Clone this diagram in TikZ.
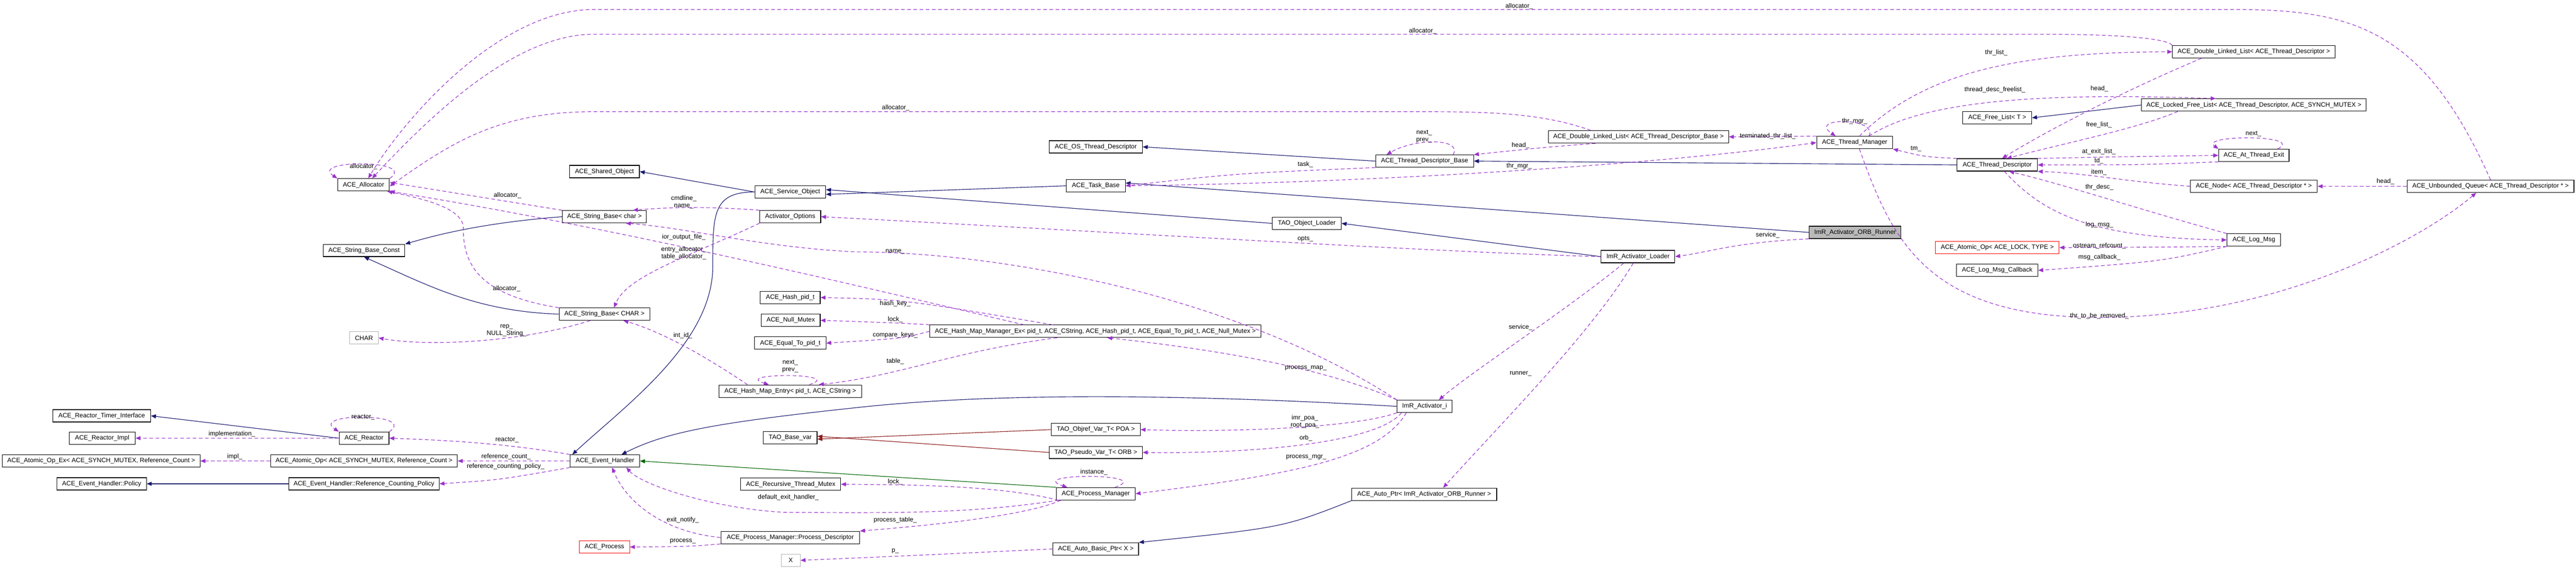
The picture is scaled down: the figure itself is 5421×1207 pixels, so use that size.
\documentclass[tikz,border=0pt]{standalone}
\usepackage{fontspec}
\setmainfont{Liberation Sans}
\usetikzlibrary{arrows.meta}
\definecolor{navy}{HTML}{191970}
\definecolor{orch}{HTML}{9A32CD}
\definecolor{dgreen}{HTML}{006400}
\definecolor{dred}{HTML}{8B1A1A}
\begin{document}
\begin{tikzpicture}[x=0.01cm,y=-0.01cm,
 box/.style={draw,line width=0.35pt,minimum height=0.26cm,inner sep=0pt,font=\fontsize{3.8}{4.3}\selectfont},
 lab/.style={inner sep=0pt,font=\fontsize{3.8}{4.3}\selectfont,align=center},
 inh/.style={draw=navy,line width=0.35pt,-{Triangle[length=3pt,width=2.4pt]}},
 inhg/.style={inh,draw=dgreen},
 inhr/.style={inh,draw=dred},
 use/.style={draw=orch,line width=0.35pt,dash pattern=on 2.2pt off 1.5pt,-{Triangle[length=3pt,width=2.4pt,fill=orch]}}]
\useasboundingbox (0,0) rectangle (5421,1207);
\fill[white] (0,0) rectangle (5421,1207);
% nodes
\node[box,minimum width=1.09cm] (alloc) at (765,389) {ACE\_Allocator};
\node[box,minimum width=1.72cm] (sbc) at (766,527) {ACE\_String\_Base\_Const};
\node[box,minimum width=0.60cm,draw=gray!60] (char) at (766,711) {CHAR};
\node[box,minimum width=2.06cm] (rti) at (214,875) {ACE\_Reactor\_Timer\_Interface};
\node[box,minimum width=1.39cm] (rimpl) at (215,922) {ACE\_Reactor\_Impl};
\node[box,minimum width=4.16cm] (aoex) at (213,970) {ACE\_Atomic\_Op\_Ex< ACE\_SYNCH\_MUTEX, Reference\_Count >};
\node[box,minimum width=1.88cm] (pol) at (214,1018) {ACE\_Event\_Handler::Policy};
\node[box,minimum width=1.05cm] (reac) at (766,922) {ACE\_Reactor};
\node[box,minimum width=3.93cm] (ao) at (766,970) {ACE\_Atomic\_Op< ACE\_SYNCH\_MUTEX, Reference\_Count >};
\node[box,minimum width=3.16cm] (rcp) at (766,1018) {ACE\_Event\_Handler::Reference\_Counting\_Policy};
\node[box,minimum width=1.47cm] (so1) at (1272,361) {ACE\_Shared\_Object};
\node[box,minimum width=1.49cm] (svc) at (1663,404) {ACE\_Service\_Object};
\node[box,minimum width=1.77cm] (sbchar) at (1272,456) {ACE\_String\_Base< char >};
\node[box,minimum width=1.28cm] (aopt) at (1663,456) {Activator\_Options};
\node[box,minimum width=1.91cm] (sbCHAR) at (1272,661) {ACE\_String\_Base< CHAR >};
\node[box,minimum width=1.26cm] (hpid) at (1663,626) {ACE\_Hash\_pid\_t};
\node[box,minimum width=1.24cm] (nmtx) at (1664,674) {ACE\_Null\_Mutex};
\node[box,minimum width=1.50cm] (eqp) at (1663,722) {ACE\_Equal\_To\_pid\_t};
\node[box,minimum width=3.00cm] (hme) at (1663,823) {ACE\_Hash\_Map\_Entry< pid\_t, ACE\_CString >};
\node[box,minimum width=1.13cm] (tbv) at (1663,921) {TAO\_Base\_var};
\node[box,minimum width=1.46cm] (eh) at (1273,970) {ACE\_Event\_Handler};
\node[box,minimum width=2.10cm] (rtm) at (1664,1019) {ACE\_Recursive\_Thread\_Mutex};
\node[box,minimum width=2.92cm] (pd) at (1663,1131) {ACE\_Process\_Manager::Process\_Descriptor};
\node[box,minimum width=1.06cm,draw=red] (proc) at (1272,1151) {ACE\_Process};
\node[box,minimum width=0.40cm,draw=gray!60] (xx) at (1664,1179) {X};
\node[box,minimum width=1.96cm] (ostd) at (2306,309) {ACE\_OS\_Thread\_Descriptor};
\node[box,minimum width=1.24cm] (task) at (2306,391) {ACE\_Task\_Base};
\node[box,minimum width=6.96cm] (hmm) at (2305,697) {ACE\_Hash\_Map\_Manager\_Ex< pid\_t, ACE\_CString, ACE\_Hash\_pid\_t, ACE\_Equal\_To\_pid\_t, ACE\_Null\_Mutex >};
\node[box,minimum width=1.87cm] (objref) at (2306,904) {TAO\_Objref\_Var\_T< POA >};
\node[box,minimum width=1.96cm] (pseudo) at (2306,952) {TAO\_Pseudo\_Var\_T< ORB >};
\node[box,minimum width=1.66cm] (pm) at (2306,1039) {ACE\_Process\_Manager};
\node[box,minimum width=1.80cm] (abp) at (2306,1155) {ACE\_Auto\_Basic\_Ptr< X >};
\node[box,minimum width=2.06cm] (tdb) at (2998,339) {ACE\_Thread\_Descriptor\_Base};
\node[box,minimum width=3.79cm] (dlltdb) at (3448,288) {ACE\_Double\_Linked\_List< ACE\_Thread\_Descriptor\_Base >};
\node[box,minimum width=1.45cm] (tol) at (2750,470) {TAO\_Object\_Loader};
\node[box,minimum width=1.55cm] (ial) at (3447,540) {ImR\_Activator\_Loader};
\node[box,minimum width=1.16cm] (iai) at (2998,855) {ImR\_Activator\_i};
\node[box,minimum width=3.05cm] (aptr) at (2997,1040) {ACE\_Auto\_Ptr< ImR\_Activator\_ORB\_Runner >};
\node[box,minimum width=1.60cm] (tm) at (3903,300) {ACE\_Thread\_Manager};
\node[box,minimum width=1.45cm] (fl) at (4203,248) {ACE\_Free\_List< T >};
\node[box,minimum width=1.69cm] (td) at (4203,347) {ACE\_Thread\_Descriptor};
\node[box,minimum width=1.93cm,fill=gray!55] (runner) at (3904,489) {ImR\_Activator\_ORB\_Runner};
\node[box,minimum width=2.60cm,draw=red] (aolt) at (4203,521) {ACE\_Atomic\_Op< ACE\_LOCK, TYPE >};
\node[box,minimum width=1.71cm] (lmc) at (4203,569) {ACE\_Log\_Msg\_Callback};
\node[box,minimum width=3.42cm] (dlltd) at (4743,109) {ACE\_Double\_Linked\_List< ACE\_Thread\_Descriptor >};
\node[box,minimum width=4.72cm] (lfl) at (4743,221) {ACE\_Locked\_Free\_List< ACE\_Thread\_Descriptor, ACE\_SYNCH\_MUTEX >};
\node[box,minimum width=1.48cm] (ate) at (4743,327) {ACE\_At\_Thread\_Exit};
\node[box,minimum width=2.67cm] (node) at (4743,392) {ACE\_Node< ACE\_Thread\_Descriptor * >};
\node[box,minimum width=3.51cm] (uq) at (5241,392) {ACE\_Unbounded\_Queue< ACE\_Thread\_Descriptor * >};
\node[box,minimum width=1.13cm] (lm) at (4743,505) {ACE\_Log\_Msg};
% inheritance
\draw[inh] (sbchar.west) .. controls (1000,470) and (900,500) .. (sbc.north east);
\draw[inh] (sbCHAR.west) .. controls (1000,655) and (900,600) .. (sbc.south);
\draw[inh] (svc.west) -- (so1.east);
\draw[inh] (svc.west) .. controls (1500,404) and (1500,450) .. (1500,560) .. controls (1500,720) and (1320,850) .. ([xshift=0.05cm]eh.north west);
\draw[inh] (task.west) -- ([yshift=-0.05cm]svc.east);
\draw[inh] (tol.west) -- ([yshift=0.05cm]svc.east);
\draw[inh] (runner.west) -- ([yshift=0.06cm]task.east);
\draw[inh] (ial.west) -- (tol.east);
\draw[inh] (td.west) -- (tdb.east);
\draw[inh] (tdb.west) -- (ostd.east);
\draw[inh] (lfl.west) -- (fl.east);
\draw[inh] (reac.west) -- (rti.east);
\draw[inh] (rcp.west) -- (pol.east);
\draw[inh] (iai.west) .. controls (2500,830) and (2100,825) .. (1800,858) .. controls (1500,890) and (1400,910) .. ([xshift=0.35cm]eh.north);
\draw[inhg] (pm.north west) -- (eh.east);
\draw[inhr] (objref.west) -- ([yshift=-0.03cm]tbv.east);
\draw[inhr] (pseudo.west) -- ([yshift=0.03cm]tbv.east);
\draw[inh] (aptr.south west) .. controls (2700,1110) .. (abp.north east);
% usage: allocator
\draw[use] (alloc.north east) .. controls +(60,-40) and +(-60,-40) .. (alloc.north west);
\node[lab] (l1) at (765,350) {allocator\_};
\draw[use] (uq.north) .. controls (5100,60) and (4950,20) .. (4700,20) -- (1250,20) .. controls (1050,20) and (850,250) .. ([xshift=0.1cm]alloc.north);
\node[lab] (l2) at (3197,13) {allocator\_};
\draw[use] (dlltd.north west) .. controls (4560,80) and (4450,72) .. (4300,72) -- (1250,72) .. controls (1080,72) and (900,250) .. ([xshift=0.18cm]alloc.north);
\node[lab] (l3) at (2994,65) {allocator\_};
\draw[use] ([xshift=-1cm]dlltdb.north) .. controls (3250,240) and (3150,235) .. (3000,235) -- (1250,235) .. controls (1050,235) and (950,300) .. ([yshift=-0.03cm]alloc.east);
\node[lab] (l4) at (1885,227) {allocator\_};
\draw[use] (sbchar.north west) -- ([yshift=0.05cm]alloc.east);
\node[lab] (l5) at (1068,411) {allocator\_};
\draw[use] (sbCHAR.north west) .. controls (1000,620) and (975,550) .. (975,480) .. controls (975,440) and (900,420) .. ([xshift=-0.05cm]alloc.south east);
\node[lab] (l6) at (1066,607) {allocator\_};
\draw[use] ([xshift=-1.5cm]hmm.north) .. controls (1800,600) and (1300,480) .. (alloc.south east);
\node[lab] (l7) at (1439,533) {entry\_allocator\_\\table\_allocator\_};
% other usage
\draw[use] (reac.north east) .. controls +(60,-40) and +(-60,-40) .. (reac.north west);
\node[lab] (l8) at (764,878) {reactor\_};
\draw[use] (reac.west) -- (rimpl.east);
\node[lab] (l9) at (488,913) {implementation\_};
\draw[use] (ao.west) -- (aoex.east);
\node[lab] (l10) at (494,961) {impl\_};
\draw[use] (eh.north west) .. controls (1050,930) and (900,925) .. (reac.east);
\node[lab] (l11) at (1067,926) {reactor\_};
\draw[use] (eh.west) -- (ao.east);
\node[lab] (l12) at (1065,961) {reference\_count\_};
\draw[use] (eh.south west) .. controls (1050,1010) .. (rcp.east);
\node[lab] (l13) at (1064,981) {reference\_counting\_policy\_};
\draw[use] ([xshift=-0.3cm]sbCHAR.south) .. controls (1100,720) and (900,730) .. (char.east);
\node[lab] (l14) at (1066,695) {rep\_\\NULL\_String\_};
\draw[use] (aopt.north west) .. controls (1500,435) and (1420,435) .. ([xshift=0.6cm]sbchar.north);
\node[lab] (l15) at (1439,425) {cmdline\_\\name\_};
\draw[use] (aopt.south west) .. controls (1450,540) and (1320,580) .. ([xshift=0.2cm]sbCHAR.north);
\node[lab] (l16) at (1439,499) {ior\_output\_file\_};
\draw[use] (iai.north west) .. controls (2600,620) and (2100,530) .. (1800,530) .. controls (1600,520) and (1450,480) .. ([xshift=0.45cm]sbchar.south);
\node[lab] (l17) at (1884,529) {name\_};
\draw[use] ([xshift=-0.9cm]hme.north) .. controls (1500,760) and (1400,700) .. ([xshift=0.4cm]sbCHAR.south);
\node[lab] (l18) at (1437,706) {int\_id\_};
\draw[use] ([xshift=0.4cm]hme.north) .. controls +(80,-25) and +(-80,-25) .. ([xshift=-0.45cm]hme.north);
\node[lab] (l19) at (1663,771) {next\_\\prev\_};
\draw[use] ([xshift=-0.9cm]hmm.north) .. controls (1900,630) .. (hpid.east);
\node[lab] (l20) at (1884,639) {hash\_key\_};
\draw[use] (hmm.north west) .. controls (1900,680) .. (nmtx.east);
\node[lab] (l21) at (1884,672) {lock\_};
\draw[use] (hmm.west) .. controls (1900,712) .. (eqp.east);
\node[lab] (l22) at (1884,705) {compare\_keys\_};
\draw[use] ([xshift=-0.8cm]hmm.south) .. controls (2000,740) and (1900,790) .. ([xshift=0.6cm]hme.north);
\node[lab] (l23) at (1884,760) {table\_};
\draw[use] (iai.north west) .. controls (2800,780) and (2600,740) .. ([xshift=0.25cm]hmm.south);
\node[lab] (l24) at (2748,775) {process\_map\_};
\draw[use] (iai.south west) .. controls (2850,900) and (2600,910) .. (objref.east);
\node[lab] (l25) at (2746,887) {imr\_poa\_\\root\_poa\_};
\draw[use] ([xshift=0.1cm]iai.south west) .. controls (2900,930) and (2650,955) .. (pseudo.east);
\node[lab] (l26) at (2748,922) {orb\_};
\draw[use] ([xshift=0.2cm]iai.south west) .. controls (2900,970) and (2700,1000) .. (pm.east);
\node[lab] (l27) at (2749,962) {process\_mgr\_};
\draw[use] ([xshift=0.4cm]pm.north) .. controls +(90,-30) and +(-90,-30) .. ([xshift=-0.6cm]pm.north);
\node[lab] (l28) at (2302,993) {instance\_};
\draw[use] ([xshift=0.05cm]pm.south west) .. controls (2100,1020) and (1900,1020) .. (rtm.east);
\node[lab] (l29) at (1884,1014) {lock\_};
\draw[use] ([xshift=0.05cm]pm.south west) .. controls (2050,1080) and (1900,1080) .. (1650,1078) .. controls (1500,1070) and (1350,1020) .. ([xshift=0.45cm]eh.south);
\node[lab] (l30) at (1659,1046) {default\_exit\_handler\_};
\draw[use] ([xshift=0.1cm]pm.south west) .. controls (2150,1090) and (1900,1110) .. (pd.north east);
\node[lab] (l31) at (1884,1094) {process\_table\_};
\draw[use] (pd.west) .. controls (1400,1120) and (1320,1060) .. ([xshift=0.15cm]eh.south);
\node[lab] (l32) at (1437,1094) {exit\_notify\_};
\draw[use] (pd.south west) .. controls (1450,1150) .. (proc.east);
\node[lab] (l33) at (1437,1139) {process\_};
\draw[use] (abp.west) .. controls (1900,1170) .. (xx.east);
\node[lab] (l34) at (1884,1159) {p\_};
% thread stuff
\draw[use] ([xshift=0.6cm]tdb.north) .. controls +(20,-35) and +(60,-35) .. ([xshift=-0.8cm]tdb.north);
\node[lab] (l35) at (2997,287) {next\_\\prev\_};
\draw[use] (tdb.south west) .. controls (2600,365) .. (task.east);
\node[lab] (l36) at (2747,346) {task\_};
\draw[use] (task.east) .. controls (2900,385) and (3500,345) .. (tm.west);
\node[lab] (l37) at (3197,350) {thr\_mgr\_};
\draw[use] ([xshift=-0.9cm]dlltdb.south) .. controls (3250,310) .. (tdb.north east);
\node[lab] (l38) at (3200,306) {head\_};
\draw[use] (tm.north west) -- (dlltdb.east);
\node[lab] (l39) at (3720,286) {terminated\_thr\_list\_};
\draw[use] ([xshift=0.3cm]tm.north) .. controls +(20,-40) and +(-60,-40) .. ([xshift=-0.4cm]tm.north);
\node[lab] (l40) at (3903,255) {thr\_mgr\_};
\draw[use] ([xshift=0.1cm]tm.north) .. controls (4050,150) and (4250,110) .. (dlltd.west);
\node[lab] (l41) at (4201,111) {thr\_list\_};
\draw[use] ([xshift=0.3cm]tm.north) .. controls (4050,210) and (4300,195) .. ([xshift=-0.8cm]lfl.north);
\node[lab] (l42) at (4198,189) {thread\_desc\_freelist\_};
\draw[use] ([xshift=0.1cm]tm.south) .. controls (3980,500) and (4050,668) .. (4418,668) .. controls (4800,668) and (5100,500) .. ([xshift=-0.3cm]uq.south);
\node[lab] (l43) at (4418,665) {thr\_to\_be\_removed\_};
\draw[use] (td.north west) .. controls (4050,330) .. (tm.south east);
\node[lab] (l44) at (4032,313) {tm\_};
\draw[use] ([xshift=-1.1cm]dlltd.south) .. controls (4450,200) and (4300,280) .. ([xshift=0.1cm]td.north);
\node[lab] (l45) at (4418,187) {head\_};
\draw[use] ([xshift=-1.6cm]lfl.south) .. controls (4500,270) and (4350,300) .. ([xshift=0.2cm]td.north);
\node[lab] (l46) at (4417,263) {free\_list\_};
\draw[use] (td.north east) .. controls (4450,330) .. (ate.west);
\node[lab] (l47) at (4417,319) {at\_exit\_list\_};
\draw[use] (ate.south west) .. controls (4500,347) .. (td.east);
\node[lab] (l48) at (4417,339) {td\_};
\draw[use] (node.west) .. controls (4450,380) and (4400,365) .. (td.south east);
\node[lab] (l49) at (4417,362) {item\_};
\draw[use] (lm.north west) .. controls (4500,440) and (4350,390) .. ([xshift=0.25cm]td.south);
\node[lab] (l50) at (4418,394) {thr\_desc\_};
\draw[use] ([xshift=0.15cm]td.south) .. controls (4300,450) and (4400,500) .. (lm.west);
\node[lab] (l51) at (4418,473) {log\_msg\_};
\draw[use] (lm.south west) .. controls (4550,520) .. (aolt.east);
\node[lab] (l52) at (4418,518) {ostream\_refcount\_};
\draw[use] (lm.south west) .. controls (4550,550) .. (lmc.east);
\node[lab] (l53) at (4418,541) {msg\_callback\_};
\draw[use] ([xshift=0.5cm]ate.north) .. controls +(60,-30) and +(-40,-30) .. (ate.north west);
\node[lab] (l54) at (4742,282) {next\_};
\draw[use] (uq.west) -- (node.east);
\node[lab] (l55) at (5020,382) {head\_};
% loader & runner
\draw[use] (runner.south west) .. controls (3650,510) and (3600,530) .. (ial.east);
\node[lab] (l56) at (3720,495) {service\_};
\draw[use] (ial.west) .. controls (3000,530) and (2200,480) .. (aopt.east);
\node[lab] (l57) at (2747,503) {opts\_};
\draw[use] ([xshift=-0.3cm]ial.south) .. controls (3300,650) and (3100,780) .. ([xshift=0.3cm]iai.north);
\node[lab] (l58) at (3200,689) {service\_};
\draw[use] ([xshift=-0.1cm]ial.south) .. controls (3350,700) and (3150,900) .. ([xshift=0.4cm]aptr.north);
\node[lab] (l59) at (3200,786) {runner\_};
\end{tikzpicture}
\end{document}
